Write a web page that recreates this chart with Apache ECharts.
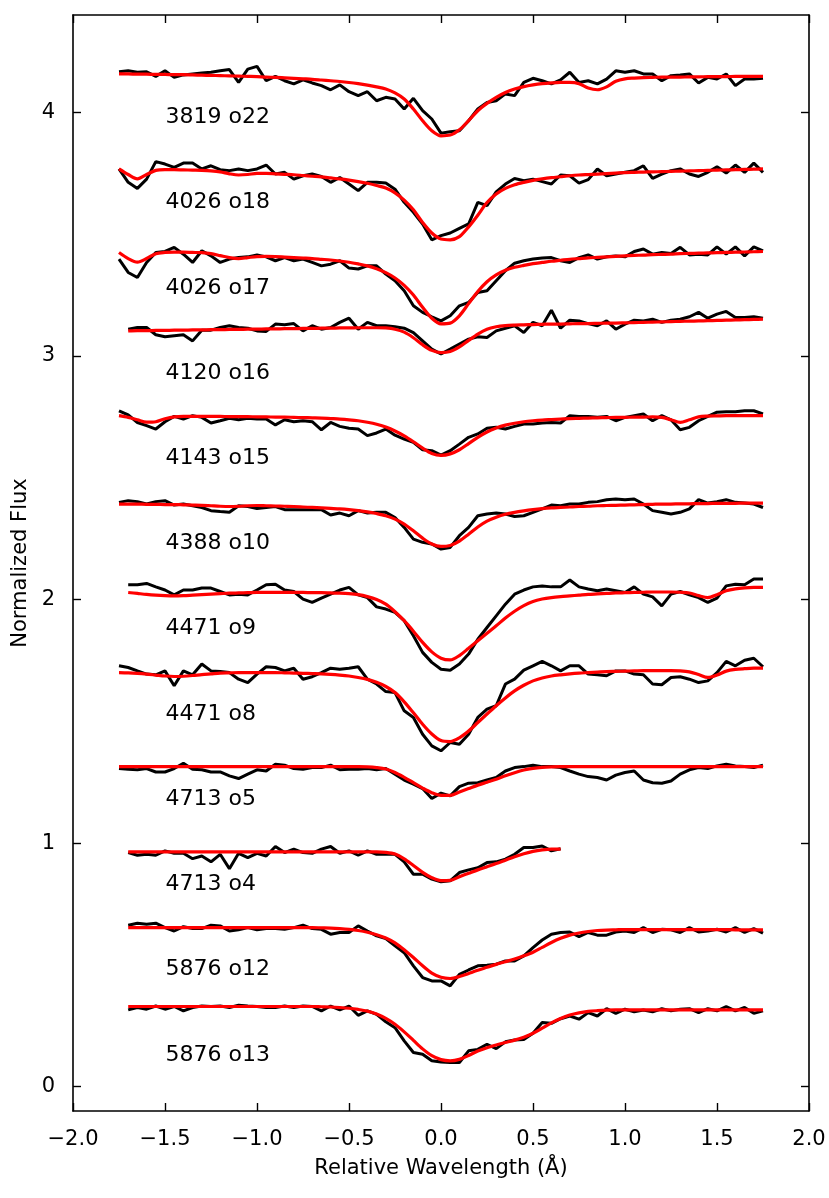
<!DOCTYPE html>
<html lang="en">
<head>
  <meta charset="UTF-8">
  <title>Line profiles</title>
  <script src="https://cdn.jsdelivr.net/npm/echarts@6.0.0/dist/echarts.min.js"></script>
  <style>
    html, body { margin: 0; padding: 0; background: #fff; }
    #main { width: 829px; height: 1198px; }
  </style>
</head>
<body>
  <div id="main"></div>
  <script>
    // relative wavelength grid (A)
    var wave = [-1.75,-1.70,-1.65,-1.60,-1.55,-1.50,-1.45,-1.40,-1.35,-1.30,
      -1.25,-1.20,-1.15,-1.10,-1.05,-1.00,-0.95,-0.90,-0.85,-0.80,
      -0.75,-0.70,-0.65,-0.60,-0.55,-0.50,-0.45,-0.40,-0.35,-0.30,
      -0.25,-0.20,-0.15,-0.10,-0.05,0.00,0.05,0.10,0.15,0.20,
      0.25,0.30,0.35,0.40,0.45,0.50,0.55,0.60,0.65,0.70,
      0.75,0.80,0.85,0.90,0.95,1.00,1.05,1.10,1.15,1.20,
      1.25,1.30,1.35,1.40,1.45,1.50,1.55,1.60,1.65,1.70,1.75];

    // 3819 o22
    var obsO22 = [4.167,4.171,4.165,4.167,4.148,4.171,4.144,4.154,4.158,4.162,
      4.165,4.171,4.176,4.123,4.178,4.189,4.130,4.148,4.130,4.117,
      4.134,4.121,4.110,4.093,4.113,4.085,4.069,4.085,4.048,4.062,
      4.055,4.014,4.058,4.007,3.973,3.915,3.921,3.925,3.966,4.014,
      4.041,4.048,4.076,4.069,4.123,4.140,4.130,4.117,4.134,4.165,
      4.123,4.130,4.117,4.137,4.171,4.165,4.171,4.158,4.158,4.130,
      4.151,4.154,4.158,4.121,4.144,4.137,4.158,4.110,4.137,4.137,4.140];
    var fitO22 = [4.158,4.158,4.157,4.157,4.156,4.156,4.155,4.155,4.154,4.153,
      4.152,4.151,4.150,4.149,4.148,4.147,4.145,4.144,4.142,4.140,
      4.138,4.136,4.133,4.130,4.127,4.123,4.118,4.112,4.105,4.096,
      4.080,4.055,4.014,3.966,3.925,3.904,3.907,3.929,3.966,4.007,
      4.037,4.062,4.082,4.096,4.106,4.113,4.118,4.121,4.123,4.123,
      4.118,4.100,4.093,4.105,4.128,4.138,4.141,4.143,4.144,4.145,
      4.145,4.145,4.146,4.146,4.147,4.147,4.147,4.148,4.148,4.148,4.148];

    // 4026 o18
    var obsO18 = [3.768,3.713,3.688,3.726,3.798,3.788,3.774,3.792,3.792,3.768,
      3.781,3.765,3.761,3.768,3.761,3.768,3.784,3.747,3.754,3.726,
      3.740,3.747,3.737,3.713,3.733,3.706,3.679,3.713,3.713,3.710,
      3.685,3.631,3.590,3.542,3.477,3.494,3.505,3.524,3.542,3.631,
      3.617,3.674,3.706,3.729,3.720,3.726,3.716,3.706,3.743,3.740,
      3.710,3.724,3.768,3.740,3.747,3.754,3.761,3.781,3.729,3.747,
      3.761,3.768,3.747,3.737,3.754,3.777,3.751,3.784,3.754,3.792,3.754];
    var fitO18 = [3.768,3.745,3.727,3.745,3.762,3.765,3.765,3.764,3.763,3.762,
      3.760,3.756,3.748,3.743,3.745,3.750,3.750,3.748,3.746,3.744,
      3.741,3.738,3.735,3.731,3.727,3.722,3.716,3.709,3.700,3.690,
      3.670,3.640,3.600,3.548,3.505,3.480,3.477,3.490,3.530,3.578,
      3.630,3.665,3.688,3.703,3.713,3.721,3.727,3.732,3.736,3.740,
      3.743,3.745,3.747,3.749,3.751,3.753,3.754,3.755,3.756,3.757,
      3.758,3.759,3.760,3.761,3.762,3.763,3.764,3.765,3.766,3.767,3.768];

    // 4026 o17
    var obsO17 = [3.398,3.343,3.322,3.384,3.425,3.429,3.446,3.418,3.384,3.432,
      3.411,3.384,3.398,3.404,3.407,3.415,3.407,3.391,3.404,3.391,
      3.398,3.384,3.370,3.377,3.391,3.361,3.357,3.370,3.370,3.336,
      3.309,3.268,3.206,3.179,3.161,3.144,3.165,3.206,3.220,3.261,
      3.268,3.309,3.350,3.381,3.391,3.398,3.402,3.404,3.391,3.384,
      3.404,3.415,3.398,3.407,3.411,3.407,3.429,3.439,3.418,3.425,
      3.421,3.446,3.415,3.418,3.415,3.448,3.418,3.448,3.411,3.448,3.432];
    var fitO17 = [3.425,3.400,3.385,3.400,3.420,3.425,3.426,3.426,3.425,3.424,
      3.420,3.412,3.404,3.400,3.404,3.408,3.409,3.408,3.406,3.404,
      3.402,3.400,3.397,3.394,3.390,3.385,3.378,3.370,3.358,3.342,
      3.320,3.290,3.250,3.200,3.155,3.132,3.135,3.165,3.215,3.265,
      3.305,3.333,3.352,3.364,3.372,3.379,3.384,3.389,3.393,3.397,
      3.400,3.403,3.405,3.407,3.409,3.411,3.413,3.414,3.416,3.417,
      3.418,3.420,3.421,3.422,3.423,3.424,3.425,3.426,3.427,3.428,3.429];

    // 4120 o16
    var obsO16 = [null,3.110,3.117,3.117,3.087,3.079,3.083,3.087,3.062,3.106,
      3.106,3.117,3.124,3.117,3.114,3.103,3.101,3.131,3.128,3.133,
      3.103,3.124,3.110,3.117,3.138,3.155,3.110,3.138,3.124,3.124,
      3.120,3.114,3.096,3.062,3.028,3.008,3.028,3.049,3.069,3.079,
      3.076,3.103,3.114,3.124,3.096,3.138,3.124,3.188,3.114,3.147,
      3.144,3.133,3.124,3.144,3.110,3.131,3.147,3.144,3.151,3.138,
      3.147,3.151,3.161,3.179,3.155,3.172,3.183,3.158,3.158,3.161,3.155];
    var fitO16 = [null,3.103,3.104,3.104,3.105,3.105,3.106,3.106,3.107,3.107,
      3.108,3.108,3.109,3.109,3.110,3.110,3.111,3.111,3.112,3.112,
      3.113,3.113,3.114,3.114,3.115,3.115,3.116,3.116,3.116,3.115,
      3.110,3.098,3.075,3.046,3.023,3.014,3.018,3.037,3.064,3.090,
      3.110,3.120,3.125,3.127,3.128,3.129,3.130,3.131,3.131,3.132,
      3.133,3.133,3.134,3.135,3.135,3.136,3.137,3.138,3.139,3.140,
      3.141,3.142,3.143,3.144,3.145,3.146,3.147,3.148,3.149,3.150,3.151];

    // 4143 o15
    var obsO15 = [2.775,2.758,2.727,2.714,2.700,2.730,2.752,2.741,2.755,2.748,
      2.725,2.734,2.744,2.738,2.744,2.741,2.741,2.717,2.738,2.730,
      2.734,2.730,2.697,2.727,2.711,2.703,2.700,2.673,2.684,2.700,
      2.675,2.659,2.645,2.615,2.611,2.593,2.611,2.638,2.666,2.680,
      2.703,2.707,2.700,2.711,2.721,2.721,2.725,2.727,2.725,2.755,
      2.752,2.752,2.748,2.752,2.734,2.748,2.755,2.762,2.734,2.755,
      2.738,2.697,2.707,2.734,2.752,2.769,2.771,2.771,2.775,2.775,2.762];
    var fitO15 = [2.755,2.748,2.738,2.728,2.730,2.742,2.750,2.752,2.752,2.752,
      2.752,2.752,2.751,2.751,2.751,2.750,2.750,2.749,2.749,2.748,
      2.747,2.746,2.745,2.743,2.741,2.738,2.734,2.728,2.720,2.708,
      2.692,2.672,2.648,2.622,2.600,2.592,2.598,2.615,2.640,2.666,
      2.688,2.704,2.716,2.724,2.730,2.734,2.737,2.739,2.741,2.743,
      2.744,2.745,2.746,2.747,2.748,2.748,2.749,2.749,2.750,2.748,
      2.738,2.727,2.738,2.750,2.753,2.754,2.755,2.755,2.755,2.755,2.755];

    // 4388 o10
    var obsO10 = [2.399,2.406,2.402,2.392,2.402,2.406,2.388,2.392,2.385,2.378,
      2.365,2.361,2.358,2.385,2.382,2.374,2.378,2.382,2.369,2.369,
      2.369,2.369,2.369,2.347,2.355,2.344,2.365,2.355,2.358,2.358,
      2.337,2.296,2.248,2.235,2.228,2.207,2.214,2.262,2.296,2.344,
      2.351,2.355,2.351,2.341,2.344,2.358,2.372,2.388,2.385,2.392,
      2.392,2.399,2.402,2.410,2.413,2.410,2.413,2.392,2.365,2.358,
      2.351,2.358,2.372,2.410,2.396,2.402,2.410,2.399,2.396,2.392,2.378];
    var fitO10 = [2.392,2.392,2.392,2.391,2.391,2.390,2.390,2.389,2.388,2.387,
      2.385,2.383,2.382,2.383,2.385,2.386,2.385,2.384,2.383,2.382,
      2.380,2.378,2.376,2.374,2.372,2.369,2.365,2.360,2.353,2.344,
      2.330,2.310,2.282,2.252,2.228,2.218,2.222,2.240,2.268,2.298,
      2.322,2.338,2.350,2.358,2.364,2.369,2.373,2.376,2.378,2.380,
      2.382,2.383,2.385,2.386,2.387,2.388,2.389,2.390,2.391,2.392,
      2.392,2.393,2.393,2.394,2.394,2.395,2.395,2.395,2.396,2.396,2.396];

    // 4471 o9
    var obsO9 = [null,2.061,2.061,2.066,2.052,2.039,2.019,2.039,2.039,2.047,
      2.047,2.033,2.019,2.022,2.019,2.039,2.061,2.063,2.039,2.033,
      2.002,1.988,2.006,2.022,2.039,2.050,2.019,2.008,1.970,1.961,
      1.947,1.913,1.851,1.783,1.742,1.714,1.710,1.735,1.776,1.837,
      1.885,1.933,1.981,2.022,2.039,2.052,2.056,2.052,2.052,2.080,
      2.052,2.043,2.036,2.043,2.036,2.029,2.052,2.022,2.011,1.974,
      2.022,2.033,2.019,2.008,1.988,2.006,2.056,2.063,2.061,2.084,2.084];
    var fitO9 = [null,2.029,2.025,2.021,2.018,2.016,2.015,2.016,2.018,2.020,
      2.022,2.024,2.026,2.027,2.028,2.029,2.029,2.029,2.029,2.029,
      2.029,2.028,2.028,2.027,2.026,2.024,2.020,2.012,2.000,1.981,
      1.950,1.913,1.870,1.824,1.785,1.759,1.752,1.770,1.800,1.831,
      1.862,1.892,1.924,1.952,1.975,1.992,2.002,2.008,2.012,2.015,
      2.018,2.021,2.023,2.025,2.027,2.028,2.029,2.030,2.031,2.031,
      2.031,2.030,2.027,2.016,2.008,2.020,2.036,2.044,2.048,2.050,2.050];

    // 4471 o8
    var obsO8 = [1.728,1.721,1.707,1.694,1.691,1.707,1.646,1.707,1.691,1.735,
      1.707,1.705,1.700,1.673,1.659,1.694,1.724,1.721,1.707,1.718,
      1.673,1.683,1.700,1.718,1.714,1.718,1.724,1.673,1.653,1.622,
      1.618,1.543,1.516,1.447,1.399,1.379,1.413,1.406,1.447,1.516,
      1.550,1.564,1.653,1.673,1.710,1.728,1.746,1.728,1.707,1.728,
      1.728,1.694,1.691,1.687,1.707,1.707,1.694,1.691,1.653,1.650,
      1.680,1.683,1.673,1.659,1.666,1.700,1.746,1.728,1.751,1.759,1.724];
    var fitO8 = [1.700,1.699,1.697,1.694,1.690,1.686,1.684,1.685,1.688,1.692,
      1.695,1.698,1.699,1.700,1.700,1.700,1.700,1.700,1.699,1.698,
      1.697,1.696,1.695,1.693,1.690,1.686,1.680,1.672,1.660,1.643,
      1.618,1.580,1.535,1.488,1.448,1.421,1.417,1.432,1.460,1.495,
      1.530,1.564,1.596,1.625,1.648,1.666,1.678,1.686,1.691,1.695,
      1.698,1.700,1.702,1.704,1.705,1.706,1.707,1.708,1.708,1.708,
      1.708,1.707,1.703,1.692,1.680,1.690,1.706,1.713,1.716,1.718,1.718];

    // 4713 o5
    var obsO5 = [1.306,1.303,1.301,1.306,1.292,1.292,1.306,1.328,1.303,1.301,
      1.292,1.292,1.276,1.265,1.283,1.301,1.296,1.324,1.320,1.306,
      1.303,1.310,1.310,1.320,1.301,1.303,1.303,1.306,1.301,1.306,
      1.283,1.259,1.242,1.224,1.183,1.205,1.194,1.232,1.246,1.248,
      1.259,1.269,1.296,1.310,1.314,1.320,1.314,1.314,1.310,1.296,
      1.283,1.273,1.269,1.259,1.279,1.290,1.296,1.259,1.248,1.246,
      1.255,1.283,1.301,1.310,1.306,1.317,1.324,1.317,1.314,1.310,1.320];
    var fitO5 = [1.314,1.314,1.314,1.314,1.314,1.314,1.314,1.314,1.314,1.314,
      1.314,1.314,1.314,1.314,1.314,1.314,1.314,1.314,1.314,1.314,
      1.314,1.314,1.314,1.314,1.314,1.314,1.314,1.313,1.310,1.304,
      1.290,1.270,1.248,1.226,1.207,1.196,1.196,1.210,1.224,1.238,
      1.250,1.262,1.276,1.289,1.300,1.307,1.311,1.313,1.314,1.314,
      1.314,1.314,1.314,1.314,1.314,1.314,1.314,1.314,1.314,1.314,
      1.314,1.314,1.314,1.314,1.314,1.314,1.314,1.314,1.314,1.314,1.314];

    // 4713 o4 (shorter order, ends near +0.65)
    var obsO4 = [null,0.961,0.950,0.954,0.950,0.968,0.958,0.958,0.936,0.947,
      0.923,0.954,0.895,0.958,0.940,0.958,0.947,0.986,0.961,0.975,
      0.961,0.958,0.975,0.986,0.958,0.968,0.950,0.968,0.954,0.954,
      0.954,0.923,0.872,0.872,0.852,0.841,0.845,0.879,0.890,0.899,
      0.920,0.923,0.934,0.954,0.982,0.982,0.988,0.968,0.977,null,
      null,null,null,null,null,null,null,null,null,null,
      null,null,null,null,null,null,null,null,null,null,null];
    var fitO4 = [null,0.964,0.964,0.964,0.964,0.964,0.964,0.964,0.964,0.964,
      0.964,0.964,0.964,0.964,0.964,0.964,0.964,0.964,0.964,0.964,
      0.964,0.964,0.964,0.964,0.964,0.964,0.964,0.964,0.964,0.962,
      0.955,0.935,0.908,0.880,0.858,0.846,0.847,0.862,0.876,0.890,
      0.903,0.916,0.930,0.944,0.956,0.966,0.972,0.975,0.975,null,
      null,null,null,null,null,null,null,null,null,null,
      null,null,null,null,null,null,null,null,null,null,null];

    // 5876 o12
    var obsO12 = [null,0.663,0.671,0.667,0.671,0.653,0.639,0.657,0.649,0.649,
      0.663,0.660,0.639,0.644,0.653,0.644,0.649,0.649,0.646,0.653,
      0.663,0.649,0.646,0.626,0.633,0.633,0.660,0.639,0.619,0.608,
      0.578,0.550,0.496,0.448,0.434,0.434,0.414,0.461,0.479,0.496,
      0.498,0.503,0.516,0.516,0.537,0.571,0.602,0.626,0.633,0.635,
      0.616,0.633,0.622,0.622,0.635,0.639,0.633,0.653,0.633,0.646,
      0.644,0.633,0.653,0.635,0.639,0.646,0.635,0.653,0.633,0.649,0.630];
    var fitO12 = [null,0.653,0.653,0.653,0.653,0.653,0.653,0.653,0.653,0.653,
      0.653,0.653,0.653,0.653,0.653,0.653,0.653,0.653,0.653,0.653,
      0.653,0.653,0.652,0.651,0.649,0.646,0.641,0.634,0.624,0.610,
      0.590,0.562,0.530,0.496,0.466,0.449,0.444,0.452,0.465,0.478,
      0.490,0.502,0.513,0.524,0.537,0.552,0.572,0.592,0.609,0.622,
      0.631,0.637,0.641,0.643,0.644,0.645,0.645,0.645,0.645,0.645,
      0.645,0.645,0.645,0.645,0.645,0.645,0.645,0.644,0.644,0.644,0.644];

    // 5876 o13
    var obsO13 = [null,0.315,0.325,0.318,0.331,0.318,0.329,0.311,0.325,0.331,
      0.329,0.331,0.325,0.334,0.331,0.329,0.325,0.325,0.331,0.325,
      0.331,0.329,0.311,0.331,0.315,0.331,0.293,0.311,0.297,0.266,
      0.242,0.188,0.140,0.133,0.106,0.101,0.099,0.099,0.147,0.153,
      0.174,0.156,0.184,0.192,0.194,0.219,0.263,0.260,0.279,0.290,
      0.277,0.304,0.290,0.320,0.301,0.318,0.307,0.315,0.307,0.320,
      0.311,0.318,0.320,0.304,0.320,0.311,0.329,0.311,0.325,0.301,0.311];
    var fitO13 = [null,0.329,0.329,0.329,0.329,0.329,0.329,0.329,0.329,0.329,
      0.329,0.329,0.329,0.329,0.329,0.329,0.329,0.329,0.329,0.329,
      0.329,0.329,0.328,0.327,0.325,0.322,0.317,0.310,0.298,0.280,
      0.256,0.225,0.190,0.155,0.127,0.111,0.106,0.112,0.128,0.146,
      0.160,0.171,0.181,0.191,0.203,0.219,0.240,0.262,0.280,0.294,
      0.303,0.309,0.312,0.314,0.315,0.315,0.315,0.315,0.315,0.315,
      0.315,0.315,0.315,0.315,0.315,0.315,0.315,0.315,0.315,0.315,0.315];

    // line labels, drawn at x = -1.5
    var lineNames = ['3819 o22','4026 o18','4026 o17','4120 o16','4143 o15','4388 o10',
      '4471 o9','4471 o8','4713 o5','4713 o4','5876 o12','5876 o13'];
    var labelY = [3.98,3.63,3.28,2.93,2.58,2.23,1.88,1.53,1.18,0.83,0.48,0.13];
    var labelX = -1.5;

    var xTicks = [-2, 2, 0.5];          // min, max, step
    var yTicks = [0, 1, 2, 3, 4];

    var observed = [obsO22, obsO18, obsO17, obsO16, obsO15, obsO10, obsO9, obsO8, obsO5, obsO4, obsO12, obsO13];
    var fitted = [fitO22, fitO18, fitO17, fitO16, fitO15, fitO10, fitO9, fitO8, fitO5, fitO4, fitO12, fitO13];

    var FONT = 'DejaVu Sans';

    function pairs(vals) {
      return wave.map(function (w, i) { return [w, vals[i]]; });
    }

    var series = [];
    for (var k = 0; k < observed.length; k++) {
      series.push({
        type: 'line', data: pairs(observed[k]), showSymbol: false, silent: true,
        lineStyle: { color: '#000', width: 3 }, z: 2
      });
      series.push({
        type: 'line', data: pairs(fitted[k]), showSymbol: false, silent: true, smooth: 0.3,
        lineStyle: { color: '#ff0000', width: 3.2 }, z: 3
      });
    }
    series.push({
      type: 'scatter', symbolSize: 1, silent: true, z: 4,
      itemStyle: { color: 'rgba(0,0,0,0)' },
      data: lineNames.map(function (n, i) { return [labelX, labelY[i], n]; }),
      label: {
        show: true, position: 'right', distance: 0, color: '#000', opacity: 1,
        fontFamily: FONT, fontSize: 22,
        formatter: function (p) { return p.data[2]; }
      }
    });

    var axisLine = { show: true, onZero: false, lineStyle: { color: '#000', width: 1.6 } };
    var tickStyle = { color: '#000', width: 1.4 };

    function fmtX(v) { return v.toFixed(1).replace('-', '\u2212'); }

    var option = {
      animation: false,
      backgroundColor: '#fff',
      grid: { left: 73, right: 20, top: 15, bottom: 87 },
      xAxis: [{
        type: 'value', position: 'bottom', min: xTicks[0], max: xTicks[1], interval: xTicks[2],
        axisLine: axisLine,
        axisTick: { inside: true, length: 8, lineStyle: tickStyle },
        axisLabel: { color: '#000', fontFamily: FONT, fontSize: 21, margin: 18, formatter: fmtX },
        splitLine: { show: false },
        name: 'Relative Wavelength (\u00c5)', nameLocation: 'middle', nameGap: 47,
        nameTextStyle: { color: '#000', fontFamily: FONT, fontSize: 21 }
      }, {
        type: 'value', position: 'top', min: xTicks[0], max: xTicks[1], interval: xTicks[2],
        axisLine: axisLine,
        axisTick: { inside: true, length: 8, lineStyle: tickStyle },
        axisLabel: { show: false },
        splitLine: { show: false }
      }],
      yAxis: [{
        type: 'value', position: 'left', min: -0.1, max: 4.4,
        axisLine: axisLine,
        axisTick: { inside: true, length: 8, lineStyle: tickStyle, customValues: yTicks },
        axisLabel: { color: '#000', fontFamily: FONT, fontSize: 21, margin: 18, customValues: yTicks },
        splitLine: { show: false },
        name: 'Normalized Flux', nameLocation: 'middle', nameGap: 40, nameRotate: 90,
        nameTextStyle: { color: '#000', fontFamily: FONT, fontSize: 21 }
      }, {
        type: 'value', position: 'right', min: -0.1, max: 4.4,
        axisLine: axisLine,
        axisTick: { inside: true, length: 8, lineStyle: tickStyle, customValues: yTicks },
        axisLabel: { show: false },
        splitLine: { show: false }
      }],
      series: series
    };

    var chart = echarts.init(document.getElementById('main'), null, { renderer: 'canvas' });
    chart.setOption(option);
  </script>
</body>
</html>
